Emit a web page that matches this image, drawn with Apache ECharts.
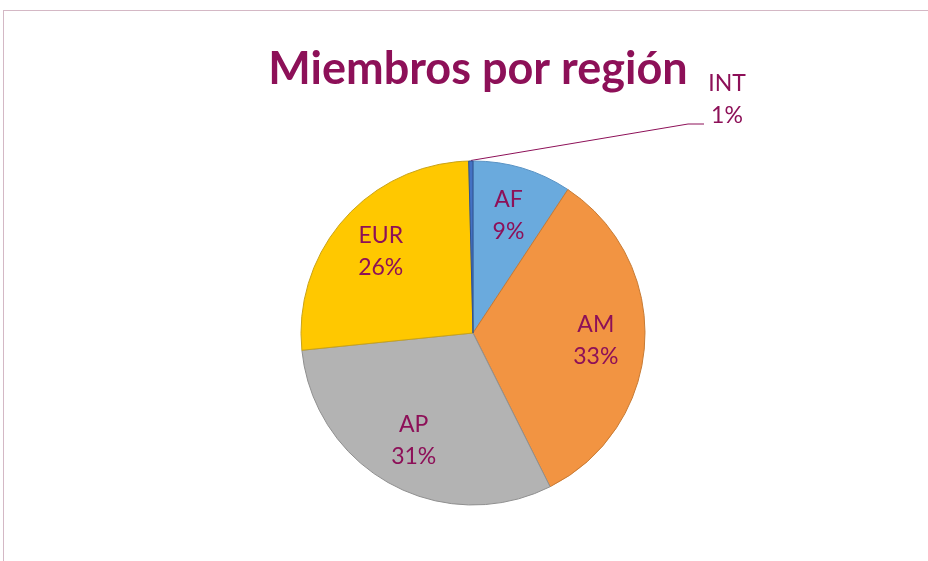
<!DOCTYPE html>
<html>
<head>
<meta charset="utf-8">
<script src="https://cdn.jsdelivr.net/npm/echarts@6/dist/echarts.min.js"></script>
<style>
  html, body { margin: 0; padding: 0; background: #ffffff; }
  #frame { position: absolute; left: 3px; top: 10px; width: 940px; height: 570px;
           border-top: 1px solid #d4b8c5; border-left: 1px solid #d4b8c5; }
  #chart { position: absolute; left: 0; top: 0; width: 928px; height: 561px; }
</style>
</head>
<body>
<div id="frame"></div>
<div id="chart"></div>
<script>
// ---- Data ----
const titleText = 'Miembros por región';
const categories = ['AF', 'AM', 'AP', 'EUR', 'INT'];
const shares = [9.3, 33.3, 30.8, 26.2, 0.4];

// ---- Styles ----
const fillColors   = ['#6aaadd', '#f29442', '#b3b3b3', '#ffc800', '#4472c4'];
const borderColors = ['#5a93c4', '#c77a33', '#8f8f8f', '#c9a318', '#2f528f'];
const textColor = '#8d1058';
const fontFam = 'Lato, "Open Sans", sans-serif';

const chart = echarts.init(document.getElementById('chart'), null, { renderer: 'canvas' });

const mainData = categories.map((c, i) => ({
  name: c,
  value: shares[i],
  itemStyle: { color: fillColors[i], borderColor: borderColors[i], borderWidth: 1 },
  label: c === 'INT' ? { show: true, position: 'outside' } : { show: false },
  labelLine: c === 'INT' ? { show: true } : { show: false }
}));

const labelData = categories.map((c, i) => ({
  name: c,
  value: shares[i],
  label: { show: c !== 'INT' }
}));

const labelStyle = {
  formatter: '{b}\n{d}%',
  color: textColor,
  fontFamily: fontFam,
  fontSize: 23,
  lineHeight: 32
};

chart.setOption({
  animation: false,
  title: {
    text: titleText,
    left: 473,
    textAlign: 'center',
    top: 42,
    textStyle: { color: textColor, fontFamily: fontFam, fontWeight: 'bold', fontSize: 45 }
  },
  series: [
    {
      type: 'pie',
      center: [473, 333],
      radius: [0, 172],
      startAngle: 90,
      clockwise: true,
      percentPrecision: 0,
      avoidLabelOverlap: false,
      silent: true,
      label: Object.assign({}, labelStyle),
      labelLine: { show: false, lineStyle: { color: textColor, width: 1 }, length: 10, length2: 10 },
      labelLayout: function (p) {
        if (categories[p.dataIndex] === 'INT') {
          const lx = 727, ly = 100;
          const r = p.rect;
          return {
            x: lx, y: ly, align: 'center', verticalAlign: 'middle',
            labelLinePoints: [
              [r.x + r.width / 2, r.y],
              [lx - 39, ly + 24],
              [lx - 23, ly + 24]
            ]
          };
        }
      },
      data: mainData
    },
    {
      type: 'pie',
      center: [473, 333],
      radius: [68, 172],
      startAngle: 90,
      clockwise: true,
      percentPrecision: 0,
      avoidLabelOverlap: false,
      silent: true,
      itemStyle: { color: 'rgba(0,0,0,0)', borderWidth: 0 },
      label: Object.assign({ position: 'inside' }, labelStyle),
      labelLine: { show: false },
      data: labelData
    }
  ]
});
</script>
</body>
</html>
